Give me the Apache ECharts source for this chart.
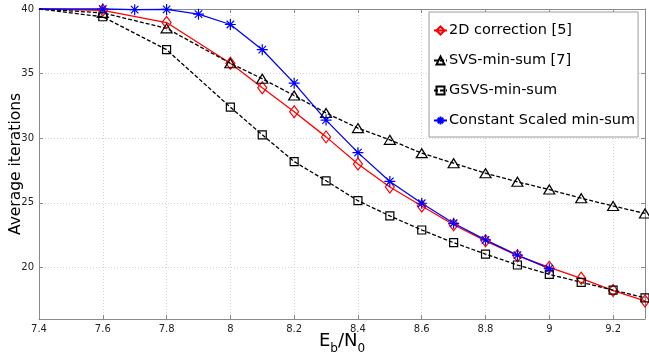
<!DOCTYPE html>
<html>
<head>
<meta charset="utf-8">
<script src="https://cdn.jsdelivr.net/npm/echarts@6/dist/echarts.min.js"></script>
<style>
  html, body { margin: 0; padding: 0; background: #fff; }
  #chart { width: 649px; height: 362px; }
</style>
</head>
<body>
<div id="chart"></div>
<script>
// Eb/N0 points shared by three curves
const ebn0 = [7.4, 7.6, 7.8, 8.0, 8.1, 8.2, 8.3, 8.4, 8.5, 8.6, 8.7, 8.8, 8.9, 9.0, 9.1, 9.2, 9.3];
const ebn0Const = [7.4, 7.6, 7.7, 7.8, 7.9, 8.0, 8.1, 8.2, 8.3, 8.4, 8.5, 8.6, 8.7, 8.8, 8.9, 9.0];

const corr2d = [40, 39.9, 38.95, 35.8, 33.9, 32.05, 30.1, 28.0, 26.22, 24.75, 23.3, 22.05, 20.9, 20.0, 19.15, 18.2, 17.4];
const svs = [40, 39.7, 38.5, 35.8, 34.6, 33.3, 31.95, 30.78, 29.87, 28.84, 28.06, 27.29, 26.62, 26.02, 25.35, 24.75, 24.17];
const gsvs = [40, 39.4, 36.85, 32.4, 30.26, 28.19, 26.7, 25.16, 23.98, 22.89, 21.91, 21.03, 20.18, 19.46, 18.84, 18.24, 17.64];
const constScaled = [40, 40, 39.95, 39.97, 39.6, 38.8, 36.85, 34.26, 31.4, 28.88, 26.65, 24.96, 23.41, 22.12, 20.95, 19.9];

const names = ['2D correction [5]', 'SVS-min-sum [7]', 'GSVS-min-sum', 'Constant Scaled min-sum'];
const xTickLabels = ['7.4', '7.6', '7.8', '8', '8.2', '8.4', '8.6', '8.8', '9', '9.2'];

const font = 'DejaVu Sans';
const starPath = 'path://M5,0V10M0,5H10M1.6,1.6L8.4,8.4M1.6,8.4L8.4,1.6';

// first point sits on the axis corner without a marker
function pairs(xs, ys) {
  return xs.map((x, i) => i === 0 ? { value: [x, ys[i]], symbol: 'none' } : [x, ys[i]]);
}

function lineSeries(name, xs, ys, color, symbol, size, dashed) {
  return {
    name: name,
    type: 'line',
    data: pairs(xs, ys),
    symbol: symbol,
    symbolSize: size,
    showAllSymbol: true,
    clip: false,
    lineStyle: { color: color, width: 1.3, type: dashed ? [4, 2] : 'solid' },
    itemStyle: { color: 'rgba(0,0,0,0)', borderColor: color, borderWidth: 1.2 },
    emphasis: { disabled: true },
    animation: false
  };
}

const chart = echarts.init(document.getElementById('chart'));

const gridLine = { show: true, lineStyle: { color: '#d4d4d4', type: [1, 2], width: 1 } };
const axisLine = { show: true, lineStyle: { color: '#8a8a8a', width: 1 } };
const tick = { show: true, inside: true, length: 4, lineStyle: { color: '#8a8a8a' } };

chart.setOption({
  backgroundColor: '#fff',
  textStyle: { fontFamily: font },
  grid: { left: 39, right: 4, top: 9, bottom: 43, containLabel: false, outerBoundsMode: 'none' },
  legend: {
    orient: 'vertical',
    left: 429,
    top: 12,
    itemGap: 15,
    itemWidth: 13,
    itemHeight: 10,
    padding: [11, 3, 9, 4],
    backgroundColor: '#fff',
    borderColor: '#9a9a9a',
    borderWidth: 1,
    textStyle: { fontFamily: font, fontSize: 14.5, color: '#000', padding: [0, 0, 0, -3] },
    data: names
  },
  xAxis: [{
    type: 'value',
    min: 7.4,
    max: 9.3,
    interval: 0.2,
    name: '{e|E}{s|b}{e|/N}{s|0}',
    nameLocation: 'middle',
    nameGap: 13,
    nameMoveOverlap: false,
    nameTextStyle: {
      rich: {
        e: { fontFamily: font, fontSize: 18, color: '#000', verticalAlign: 'bottom' },
        s: { fontFamily: font, fontSize: 12, color: '#000', verticalAlign: 'bottom', padding: [0, 0, -5, 0] }
      }
    },
    axisLine: axisLine,
    axisTick: tick,
    axisLabel: {
      fontFamily: font, fontSize: 10, color: '#222', margin: 5, showMaxLabel: false,
      formatter: v => {
        const s = String(Math.round(v * 10) / 10);
        return xTickLabels.includes(s) ? s : '';
      }
    },
    splitLine: gridLine
  }, {
    type: 'value',
    position: 'top',
    min: 7.4,
    max: 9.3,
    interval: 0.2,
    axisLine: axisLine,
    axisTick: tick,
    axisLabel: { show: false },
    splitLine: { show: false }
  }],
  yAxis: [{
    type: 'value',
    min: 16,
    max: 40,
    splitNumber: 5,
    name: 'Average iterations',
    nameLocation: 'middle',
    nameGap: 15,
    nameMoveOverlap: false,
    nameTextStyle: { fontFamily: font, fontSize: 15.5, color: '#000' },
    axisLine: axisLine,
    axisTick: tick,
    axisLabel: { fontFamily: font, fontSize: 10, color: '#222', margin: 5, showMinLabel: false },
    splitLine: gridLine
  }, {
    type: 'value',
    position: 'right',
    min: 16,
    max: 40,
    splitNumber: 5,
    axisLine: axisLine,
    axisTick: tick,
    axisLabel: { show: false },
    splitLine: { show: false }
  }],
  series: [
    lineSeries(names[0], ebn0, corr2d, '#ff0000', 'diamond', [9, 12], false),
    lineSeries(names[1], ebn0, svs, '#000000', 'triangle', [11, 9], true),
    lineSeries(names[2], ebn0, gsvs, '#000000', 'rect', 8, true),
    lineSeries(names[3], ebn0Const, constScaled, '#0000ff', starPath, 11, false)
  ]
});
</script>
</body>
</html>
